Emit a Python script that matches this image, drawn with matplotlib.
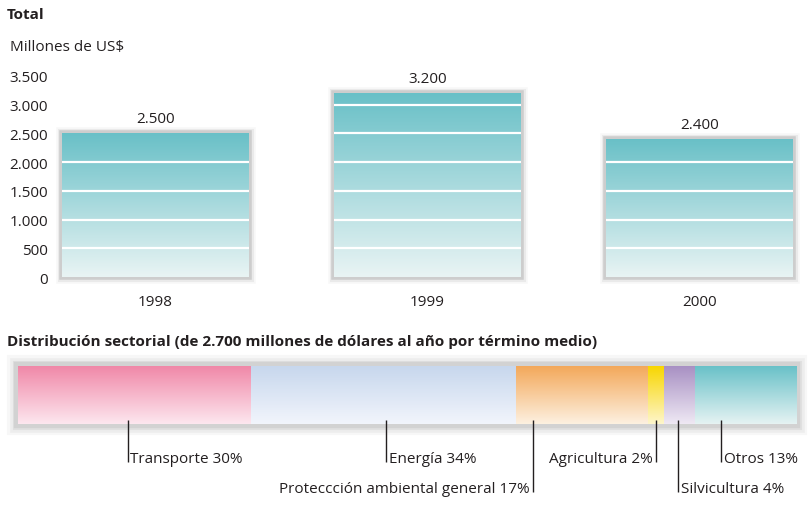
import numpy as np
import matplotlib
matplotlib.use("Agg")
import matplotlib.pyplot as plt
from matplotlib.colors import to_rgb
from matplotlib.patches import Rectangle

# ---------------- data ----------------
years = ["1998", "1999", "2000"]
totals = [2500, 3200, 2400]
total_labels = ["2.500", "3.200", "2.400"]
yticks = [0, 500, 1000, 1500, 2000, 2500, 3000, 3500]
ytick_labels = ["0", "500", "1.000", "1.500", "2.000", "2.500", "3.000", "3.500"]

sectors = ["Transporte", "Energía", "Proteccción ambiental general",
           "Agricultura", "Silvicultura", "Otros"]
shares = [30, 34, 17, 2, 4, 13]

# ---------------- style ----------------
FONT = "Open Sans"
plt.rcParams['font.family'] = [FONT, 'DejaVu Sans']
TXT = "#231f20"
W, H = 809, 506
fig = plt.figure(figsize=(W / 100, H / 100), dpi=100)
fig.patch.set_facecolor("white")


def fx(px):
    return px / W


def fy(py):
    return 1 - py / H


def grad(top, bottom, n=256):
    t = np.linspace(0, 1, n)[:, None]
    a = np.array(to_rgb(bottom))
    b = np.array(to_rgb(top))
    return (a * (1 - t) + b * t)[:, None, :]


def glow(ax, x0, y0, w, h, layers):
    for lw, col, al in layers:
        ax.add_patch(Rectangle((x0, y0), w, h, fill=False, lw=lw, ec=col,
                               alpha=al, joinstyle="miter", zorder=1,
                               clip_on=False))


TOP_GLOW = [(9, "#000000", 0.03), (6.5, "#000000", 0.05), (4.0, "#cdcdcd", 1.0)]
BAR_GLOW = [(16, "#000000", 0.03), (12, "#000000", 0.04), (8, "#000000", 0.05),
            (6.0, "#d2d2d2", 1.0)]

# ---------------- top panel ----------------
fig.text(fx(7), fy(15), "Total", fontsize=11, fontweight="bold",
         color=TXT, va="center", ha="left")
fig.text(fx(10), fy(48), "Millones de US$", fontsize=11, color=TXT,
         va="center", ha="left")

ax_l, ax_r, ax_b, ax_t = 55, 800, 278, 77
ax1 = fig.add_axes([fx(ax_l), fy(ax_b), fx(ax_r - ax_l), (ax_b - ax_t) / H])
spacing = 272.0
c0 = 155.5
ax1.set_xlim((ax_l - c0) / spacing, (ax_r - c0) / spacing)
ax1.set_ylim(0, 3500)
bw = 187 / spacing
for i, (v, lab) in enumerate(zip(totals, total_labels)):
    x0 = i - bw / 2
    glow(ax1, x0, 0, bw, v, TOP_GLOW)
    ax1.imshow(grad("#69c0c7", "#e9f4f4"), extent=[x0, x0 + bw, 0, v],
               origin="lower", aspect="auto", zorder=2, interpolation="bilinear")
    lv = [y for y in yticks if 0 < y < v]
    ax1.hlines(lv, x0, x0 + bw, colors="white", lw=1.6, zorder=3)
    ax1.annotate(lab, (i, v), xytext=(0, 5.5), textcoords="offset points",
                 ha="center", va="bottom", fontsize=11, color=TXT)

ax1.set_yticks(yticks)
ax1.set_yticklabels(ytick_labels)
ax1.set_xticks(range(len(years)))
ax1.set_xticklabels(years)
ax1.tick_params(axis="y", length=0, pad=5, labelsize=11, labelcolor=TXT)
ax1.tick_params(axis="x", length=0, pad=12, labelsize=11, labelcolor=TXT)
for s in ax1.spines.values():
    s.set_visible(False)
ax1.patch.set_alpha(0)

# ---------------- bottom panel ----------------
fig.text(fx(7), fy(342), "Distribución sectorial (de 2.700 millones de dólares al año por término medio)",
         fontsize=11, fontweight="bold", color=TXT, va="center", ha="left")

b_l, b_r, b_t, b_b = 18, 796, 367, 425
bottom_px = 503
unit = b_b - b_t
ax2 = fig.add_axes([fx(b_l), fy(bottom_px), fx(b_r - b_l), (bottom_px - b_t) / H])
ax2.set_xlim(0, 100)
ax2.set_ylim(-(bottom_px - b_b) / unit, 1)
ax2.axis("off")
glow(ax2, 0, 0, 100, 1, BAR_GLOW)

seg_colors = [("#f088a8", "#fde7ef"), ("#c7d7ed", "#f2f5fc"),
              ("#f3a85a", "#fdf1e1"), ("#f8d600", "#fef6cc"),
              ("#a890c3", "#efe9f4"), ("#69c1c8", "#e6f3f3")]
leader_frac = [0.47, 0.51, 0.13, 0.5, 0.45, 0.26]
rows = [1, 1, 2, 1, 2, 1]
sides = ["r", "r", "l", "l", "r", "r"]

start = 0
for name, v, (ct, cb), fr, row, side in zip(sectors, shares, seg_colors,
                                             leader_frac, rows, sides):
    ax2.imshow(grad(ct, cb), extent=[start, start + v, 0, 1], origin="lower",
               aspect="auto", zorder=2, interpolation="bilinear")
    lx = start + fr * v
    y_top = (b_b - 421) / unit
    y_end = -(463 - b_b) / unit if row == 1 else -(493 - b_b) / unit
    ax2.plot([lx, lx], [y_top, y_end], color=TXT, lw=1.0, zorder=4,
             solid_capstyle="butt")
    label = f"{name} {v}%"
    if side == "r":
        ax2.annotate(label, (lx, y_end), xytext=(2, 0), textcoords="offset points",
                     ha="left", va="baseline", fontsize=11, color=TXT)
    else:
        ax2.annotate(label, (lx, y_end), xytext=(-2.5, 0), textcoords="offset points",
                     ha="right", va="baseline", fontsize=11, color=TXT)
    start += v

fig.savefig("out.png", dpi=100, facecolor="white")
